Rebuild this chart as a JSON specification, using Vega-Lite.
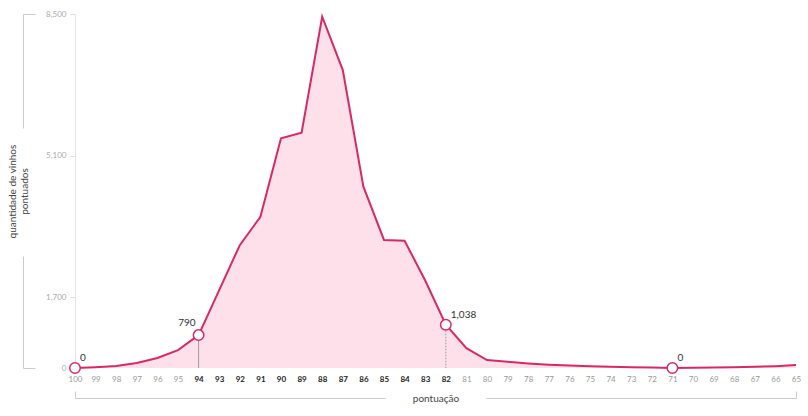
{
  "$schema": "https://vega.github.io/schema/vega-lite/v6.json",
  "width": 721,
  "height": 354,
  "autosize": {"type": "none"},
  "padding": {"left": 75, "top": 14, "right": 12, "bottom": 48},
  "background": "white",
  "config": {"view": {"stroke": null}, "font": "Lato"},
  "data": {"values": [
    {"pontos": 100, "qtd": 0}, {"pontos": 99, "qtd": 20}, {"pontos": 98, "qtd": 50},
    {"pontos": 97, "qtd": 120}, {"pontos": 96, "qtd": 240}, {"pontos": 95, "qtd": 430},
    {"pontos": 94, "qtd": 790}, {"pontos": 93, "qtd": 1870}, {"pontos": 92, "qtd": 2950},
    {"pontos": 91, "qtd": 3630}, {"pontos": 90, "qtd": 5515}, {"pontos": 89, "qtd": 5650},
    {"pontos": 88, "qtd": 8435}, {"pontos": 87, "qtd": 7155}, {"pontos": 86, "qtd": 4355},
    {"pontos": 85, "qtd": 3075}, {"pontos": 84, "qtd": 3055}, {"pontos": 83, "qtd": 2100},
    {"pontos": 82, "qtd": 1038}, {"pontos": 81, "qtd": 475}, {"pontos": 80, "qtd": 190},
    {"pontos": 79, "qtd": 150}, {"pontos": 78, "qtd": 110}, {"pontos": 77, "qtd": 80},
    {"pontos": 76, "qtd": 60}, {"pontos": 75, "qtd": 45}, {"pontos": 74, "qtd": 30},
    {"pontos": 73, "qtd": 20}, {"pontos": 72, "qtd": 10}, {"pontos": 71, "qtd": 0},
    {"pontos": 70, "qtd": 5}, {"pontos": 69, "qtd": 10}, {"pontos": 68, "qtd": 20},
    {"pontos": 67, "qtd": 30}, {"pontos": 66, "qtd": 45}, {"pontos": 65, "qtd": 70}
  ]},
  "resolve": {"axis": {"x": "independent", "y": "independent"}},
  "layer": [
    {
      "mark": {"type": "area", "color": "#fde0e9", "opacity": 1},
      "encoding": {
        "x": {"field": "pontos", "type": "quantitative",
          "scale": {"domain": [65, 100], "reverse": true, "nice": false, "zero": false},
          "axis": {"orient": "bottom", "title": null, "domain": false, "ticks": false, "grid": false,
            "values": [100,99,98,97,96,95,94,93,92,91,90,89,88,87,86,85,84,83,82,81,80,79,78,77,76,75,74,73,72,71,70,69,68,67,66,65],
            "labelPadding": 7, "labelFontSize": 8, "labelFlush": false, "labelOverlap": false,
            "labelColor": {"condition": {"test": "datum.value >= 82 && datum.value <= 94", "value": "#222"}, "value": "#999"},
            "labelFontWeight": {"condition": {"test": "datum.value >= 82 && datum.value <= 94", "value": "bold"}, "value": "normal"}}},
        "y": {"field": "qtd", "type": "quantitative",
          "scale": {"domain": [0, 8500], "nice": false},
          "axis": {"orient": "left", "title": null, "grid": false, "values": [0, 1700, 5100, 8500],
            "labelExpr": "format(datum.value, ',')",
            "domainColor": "#e6e6e6", "tickColor": "#dddddd", "tickSize": 5, "labelColor": "#aaaaaa",
            "labelFontSize": 8, "labelPadding": 4}}
      }
    },
    {
      "mark": {"type": "line", "color": "#d82a62", "strokeWidth": 2},
      "encoding": {
        "x": {"field": "pontos", "type": "quantitative",
          "axis": {"orient": "bottom", "offset": 30, "labels": false, "grid": false, "values": [100, 65],
            "tickSize": -7, "tickColor": "#cccccc", "domainColor": "#cccccc", "domainDash": [310, 101, 310],
            "title": "pontuação", "titleY": 0, "titleBaseline": "middle", "titleFontSize": 10,
            "titleFontWeight": "normal", "titleColor": "#444444"}},
        "y": {"field": "qtd", "type": "quantitative",
          "axis": {"orient": "left", "offset": 52, "labels": false, "grid": false, "values": [0, 8500],
            "tickSize": -12, "tickColor": "#cccccc", "domainColor": "#cccccc", "domainDash": [112, 128, 114],
            "title": ["quantidade de vinhos", "pontuados"], "titleX": -11, "titleBaseline": "middle",
            "titleFontSize": 10, "titleFontWeight": "normal", "titleColor": "#444444"}}
      }
    },
    {
      "transform": [{"filter": "datum.pontos == 94"}],
      "mark": {"type": "rule", "color": "#888888", "strokeWidth": 0.8},
      "encoding": {
        "x": {"field": "pontos", "type": "quantitative", "axis": null},
        "y": {"field": "qtd", "type": "quantitative", "axis": null},
        "y2": {"datum": 0}
      }
    },
    {
      "transform": [{"filter": "datum.pontos == 82"}],
      "mark": {"type": "rule", "color": "#888888", "strokeWidth": 0.8, "strokeDash": [1.5, 1.5]},
      "encoding": {
        "x": {"field": "pontos", "type": "quantitative", "axis": null},
        "y": {"field": "qtd", "type": "quantitative", "axis": null},
        "y2": {"datum": 0}
      }
    },
    {
      "transform": [{"filter": "datum.pontos == 100 || datum.pontos == 94 || datum.pontos == 82 || datum.pontos == 71"}],
      "mark": {"type": "point", "filled": true, "fill": "white", "stroke": "#d82a62", "strokeWidth": 1.5, "size": 110, "opacity": 1},
      "encoding": {
        "x": {"field": "pontos", "type": "quantitative", "axis": null},
        "y": {"field": "qtd", "type": "quantitative", "axis": null}
      }
    },
    {
      "transform": [{"filter": "datum.pontos == 100 || datum.pontos == 82 || datum.pontos == 71"}],
      "mark": {"type": "text", "align": "left", "baseline": "bottom", "dx": 5, "dy": -5, "fontSize": 10, "color": "#333333"},
      "encoding": {
        "x": {"field": "pontos", "type": "quantitative", "axis": null},
        "y": {"field": "qtd", "type": "quantitative", "axis": null},
        "text": {"field": "qtd", "type": "quantitative", "format": ","}
      }
    },
    {
      "transform": [{"filter": "datum.pontos == 94"}],
      "mark": {"type": "text", "align": "right", "baseline": "bottom", "dx": -3, "dy": -7, "fontSize": 10, "color": "#333333"},
      "encoding": {
        "x": {"field": "pontos", "type": "quantitative", "axis": null},
        "y": {"field": "qtd", "type": "quantitative", "axis": null},
        "text": {"field": "qtd", "type": "quantitative", "format": ","}
      }
    }
  ]
}
